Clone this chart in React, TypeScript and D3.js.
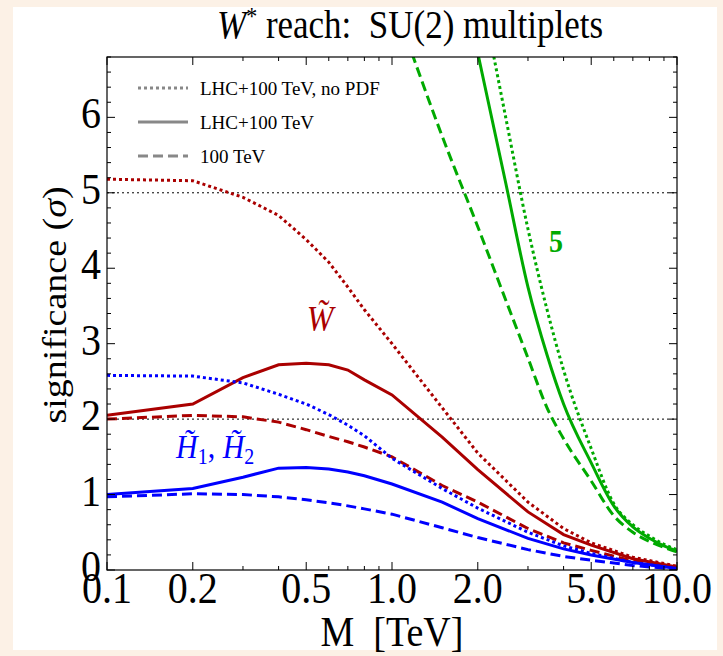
import React from "react";
import * as d3 from "d3";

// mass points (TeV) for the triplet / doublet curves
const masses = [0.1, 0.2, 0.3, 0.4, 0.5, 0.6, 0.7, 0.8, 1, 1.5, 2, 3, 4, 5, 7, 10];
// W-tilde (dark red)
const winoNoPdf = [5.18, 5.16, 4.94, 4.7, 4.38, 4.08, 3.75, 3.45, 3.0, 2.15, 1.55, 0.9, 0.55, 0.36, 0.17, 0.05];
const winoLhc = [2.05, 2.2, 2.55, 2.72, 2.74, 2.72, 2.65, 2.52, 2.32, 1.76, 1.33, 0.77, 0.47, 0.33, 0.15, 0.04];
const wino100 = [2.0, 2.05, 2.03, 1.96, 1.86, 1.77, 1.7, 1.63, 1.5, 1.12, 0.9, 0.55, 0.36, 0.26, 0.12, 0.03];
// H-tilde (blue)
const higgsinoNoPdf = [2.58, 2.57, 2.48, 2.33, 2.2, 2.06, 1.92, 1.78, 1.48, 1.08, 0.82, 0.5, 0.32, 0.22, 0.1, 0.02];
const higgsinoLhc = [1.0, 1.08, 1.23, 1.35, 1.36, 1.34, 1.3, 1.25, 1.14, 0.9, 0.68, 0.42, 0.28, 0.2, 0.1, 0.02];
const higgsino100 = [0.97, 1.01, 1.0, 0.97, 0.93, 0.89, 0.85, 0.81, 0.74, 0.56, 0.43, 0.27, 0.18, 0.13, 0.06, 0.01];
// 5-plet (green)
const massesG = [1, 1.5, 2, 2.5, 3, 3.5, 4, 5, 6, 7, 8, 9, 10];
const fiveNoPdf = [null, null, 7.9, 6.02, 4.52, 3.45, 2.65, 1.61, 0.88, 0.6, 0.45, 0.34, 0.27];
const fiveLhc = [null, null, 6.85, 5.15, 3.75, 2.85, 2.2, 1.42, 0.85, 0.57, 0.42, 0.32, 0.25];
const five100 = [7.6, 5.75, 4.55, 3.59, 2.81, 2.15, 1.74, 1.18, 0.72, 0.5, 0.38, 0.3, 0.24];

const xTickLabels = ["0.1", "0.2", "0.5", "1.0", "2.0", "5.0", "10.0"];
const xMinor = [0.3, 0.4, 0.6, 0.7, 0.8, 0.9, 3, 4, 6, 7, 8, 9];
const yTickLabels = ["0", "1", "2", "3", "4", "5", "6"];
const refLines = [2, 5];
const legendLabels = ["LHC+100 TeV, no PDF", "LHC+100 TeV", "100 TeV"];

const RED = "#aa0000";
const BLUE = "#0000ff";
const GREEN = "#00aa00";
const DOT = "3,3";
const DASH = "10,5";
const FONT = "Liberation Serif";
const SY = 1.12; // glyphs in the source are a bit tall

export default function App() {
  const W = 723, H = 656;
  const m = { left: 107, right: 677, top: 57, bottom: 570 };
  const x = d3.scaleLog().domain([0.1, 10]).range([m.left, m.right]);
  const y = d3.scaleLinear().domain([0, 6.8]).range([m.bottom, m.top]);

  const line = (xs: number[], ys: (number | null)[], curve = d3.curveLinear) =>
    d3
      .line<[number, number | null]>()
      .defined((d) => d[1] != null)
      .x((d) => x(d[0]))
      .y((d) => y(d[1] as number))
      .curve(curve)(xs.map((v, i) => [v, ys[i]]));

  const series = [
    { xs: masses, ys: winoNoPdf, color: RED, dash: DOT },
    { xs: masses, ys: winoLhc, color: RED, dash: null },
    { xs: masses, ys: wino100, color: RED, dash: DASH },
    { xs: masses, ys: higgsinoNoPdf, color: BLUE, dash: DOT },
    { xs: masses, ys: higgsinoLhc, color: BLUE, dash: null },
    { xs: masses, ys: higgsino100, color: BLUE, dash: DASH },
    { xs: massesG, ys: fiveNoPdf, color: GREEN, dash: DOT, smooth: true },
    { xs: massesG, ys: fiveLhc, color: GREEN, dash: null, smooth: true },
    { xs: massesG, ys: five100, color: GREEN, dash: DASH, smooth: true },
  ];

  const yMinor = d3.range(0, 6.81, 0.2).filter((v) => Math.abs(v - Math.round(v)) > 1e-6);
  const txt = (tx: number, ty: number) => `translate(${tx},${ty}) scale(1,${SY})`;

  return (
    <svg width={W} height={H} style={{ position: "absolute", left: 0, top: 0, fontFamily: FONT }}>
      <rect width={W} height={H} fill="#fcf1e6" />
      <rect x={13} y={7} width={704} height={643} fill="#ffffff" />
      <defs>
        <clipPath id="plot">
          <rect x={m.left} y={m.top} width={m.right - m.left} height={m.bottom - m.top} />
        </clipPath>
      </defs>

      {/* title */}
      <text transform={txt(410, 38)} textAnchor="middle" fontSize={35}>
        <tspan fontStyle="italic">W</tspan>
        <tspan fontSize={22} dy={-12}>*</tspan>
        <tspan dy={12}>{" reach:\u00a0\u00a0SU(2) multiplets"}</tspan>
      </text>

      {/* reference lines */}
      {refLines.map((v) => (
        <line key={v} x1={m.left} x2={m.right} y1={y(v)} y2={y(v)} stroke="#000" strokeWidth={1} strokeDasharray="2,3" />
      ))}

      {/* curves */}
      <g clipPath="url(#plot)" fill="none" strokeWidth={3}>
        {series.map((s, i) => (
          <path
            key={i}
            d={line(s.xs, s.ys, s.smooth ? d3.curveMonotoneX : d3.curveLinear) || ""}
            stroke={s.color}
            strokeDasharray={s.dash || undefined}
          />
        ))}
      </g>

      {/* frame */}
      <rect x={m.left} y={m.top} width={m.right - m.left} height={m.bottom - m.top} fill="none" stroke="#000" strokeWidth={1.2} />
      <g stroke="#000" strokeWidth={1}>
        {xTickLabels.map((t) => (
          <g key={t}>
            <line x1={x(+t)} x2={x(+t)} y1={m.bottom} y2={m.bottom - 8} />
            <line x1={x(+t)} x2={x(+t)} y1={m.top} y2={m.top + 8} />
          </g>
        ))}
        {xMinor.map((t) => (
          <g key={t}>
            <line x1={x(t)} x2={x(t)} y1={m.bottom} y2={m.bottom - 4} />
            <line x1={x(t)} x2={x(t)} y1={m.top} y2={m.top + 4} />
          </g>
        ))}
        {yTickLabels.map((t) => (
          <g key={t}>
            <line x1={m.left} x2={m.left + 8} y1={y(+t)} y2={y(+t)} />
            <line x1={m.right} x2={m.right - 8} y1={y(+t)} y2={y(+t)} />
          </g>
        ))}
        {yMinor.map((t) => (
          <g key={t}>
            <line x1={m.left} x2={m.left + 4} y1={y(t)} y2={y(t)} />
            <line x1={m.right} x2={m.right - 4} y1={y(t)} y2={y(t)} />
          </g>
        ))}
      </g>

      {/* tick labels */}
      <g fontSize={40}>
        {xTickLabels.map((t) => (
          <text key={t} transform={txt(x(+t), m.bottom + 33)} textAnchor="middle">
            {t}
          </text>
        ))}
        {yTickLabels.map((t) => (
          <text key={t} transform={txt(m.left - 6, y(+t) + 11)} textAnchor="end">
            {t}
          </text>
        ))}
      </g>

      {/* axis titles */}
      <text transform={txt((m.left + m.right) / 2, 646)} textAnchor="middle" fontSize={38}>
        {"M\u00a0\u00a0[TeV]"}
      </text>
      <text transform={`translate(66,305) rotate(-90) scale(1,${1 / SY})`} textAnchor="middle" fontSize={38}>
        significance (<tspan fontStyle="italic">σ</tspan>)
      </text>

      {/* legend */}
      {legendLabels.map((l, i) => (
        <g key={l} transform={`translate(138,${88 + i * 34})`}>
          <line x1={0} x2={50} stroke="#888" strokeWidth={3} strokeDasharray={i === 0 ? DOT : i === 2 ? DASH : undefined} />
          <text x={62} y={7} fontSize={19}>
            {l}
          </text>
        </g>
      ))}

      {/* series labels */}
      <text transform={txt(320, 331)} textAnchor="middle" fontSize={32} fontStyle="italic" fill={RED}>
        W̃
      </text>
      <text transform={txt(176, 458)} fontSize={30} fill={BLUE}>
        <tspan fontStyle="italic">H̃</tspan>
        <tspan fontSize={20} dy={5}>1</tspan>
        <tspan dy={-5}>, </tspan>
        <tspan fontStyle="italic">H̃</tspan>
        <tspan fontSize={20} dy={5}>2</tspan>
      </text>
      <text transform={txt(556, 252)} textAnchor="middle" fontSize={28} fontWeight="bold" fill={GREEN}>
        5
      </text>
    </svg>
  );
}
